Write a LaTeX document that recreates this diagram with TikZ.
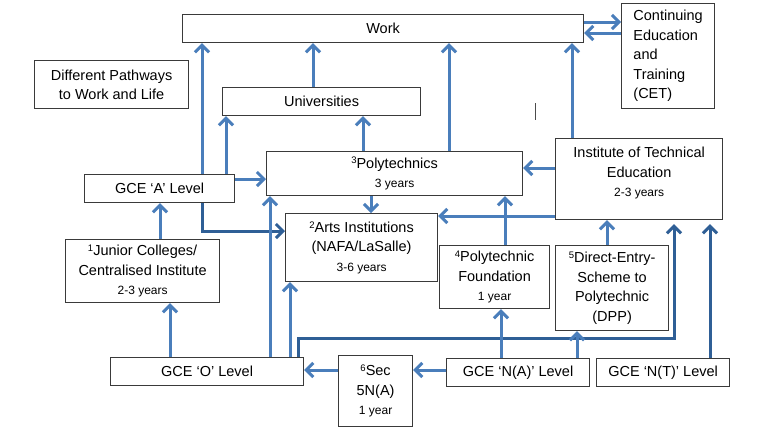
\documentclass[tikz,border=0pt]{standalone}
\usepackage{fontspec}
\setmainfont{Liberation Sans}
\usetikzlibrary{arrows.meta}

\definecolor{flow}{HTML}{4A7EBB}
\definecolor{flowdark}{HTML}{2F5F96}
\definecolor{boxline}{HTML}{3A3A3A}

\newcommand\yrs[1]{{\fontsize{12}{15}\selectfont #1}}
\newcommand\fnum[1]{\raisebox{0.55ex}{\fontsize{9.5}{10}\selectfont #1}}

\tikzset{
  box/.style={draw=boxline, line width=1.2pt, inner sep=0pt, anchor=north west,
    align=center, font=\fontsize{14.5}{19.5}\selectfont},
  lbl/.style={inner sep=0pt, align=center, font=\fontsize{14.5}{19.5}\selectfont},
  flowarrow/.style={draw=flow, line width=3pt, -{Straight Barb[length=7pt,width=14pt]}},
  darkarrow/.style={flowarrow, draw=flowdark},
}

\begin{document}
\begin{tikzpicture}[x=1pt, y=-1pt]
  \fill[white] (0,0) rectangle (768,432);
  \useasboundingbox (0,0) rectangle (768,432);

  % Boxes
  \node[box, minimum width=401pt, minimum height=28pt] (work) at (182,14) {Work};
  \node[box, minimum width=93pt, minimum height=105pt, align=left] (cet) at (621,3)
    {Continuing\\Education\\and\\Training\\(CET)};
  \node[box, minimum width=154pt, minimum height=48pt] (paths) at (34,60)
    {Different Pathways\\to Work and Life};
  \node[box, minimum width=198pt, minimum height=28pt] (univ) at (222,87) {Universities};
  \node[box, minimum width=256pt, minimum height=44pt] (poly) at (266,151)
    {\fnum{3}Polytechnics\\\yrs{3 years}};
  \node[box, minimum width=150pt, minimum height=28pt] (alevel) at (84,174) {GCE ‘A’ Level};
  \node[box, minimum width=167pt, minimum height=81pt] (ite) at (555,138) {};
  \node[lbl, anchor=north] (itetext) at ([yshift=-9pt]ite.north)
    {Institute of Technical\\Education\\\yrs{2-3 years}};
  \node[box, minimum width=152pt, minimum height=68pt] (arts) at (285,213)
    {\fnum{2}Arts Institutions\\(NAFA/LaSalle)\\\yrs{3-6 years}};
  \node[box, minimum width=154pt, minimum height=63pt] (jc) at (65,239)
    {\fnum{1}Junior Colleges/\\Centralised Institute\\\yrs{2-3 years}};
  \node[box, minimum width=110pt, minimum height=63pt] (pf) at (439,245)
    {\fnum{4}Polytechnic\\Foundation\\\yrs{1 year}};
  \node[box, minimum width=113pt, minimum height=85pt] (dpp) at (555,245)
    {\fnum{5}Direct-Entry-\\Scheme to\\Polytechnic\\(DPP)};
  \node[box, minimum width=193pt, minimum height=28pt] (olevel) at (110,357) {GCE ‘O’ Level};
  \node[box, minimum width=74pt, minimum height=71pt] (sec) at (338,355)
    {\fnum{6}Sec\\5N(A)\\\yrs{1 year}};
  \node[box, minimum width=143pt, minimum height=28pt] (na) at (446,358) {GCE ‘N(A)’ Level};
  \node[box, minimum width=133pt, minimum height=28pt] (nt) at (596,358) {GCE ‘N(T)’ Level};

  % arrow columns and rows
  \foreach \n/\x in {aw/202, au/226, uw/313, pu/363, pw/449, iw/572, pa/371, fp/505,
      di/607, oj/170, ja/160, op/270, oa/290, oi/298, ti/674, nti/710, nf/501, nd/577}
    \coordinate (\n) at (\x,0);
  \foreach \n/\y in {wc/22, cw/33, ap/179, ip/168, ia/216, ns/370, at/231, ot/338}
    \coordinate (\n) at (0,\y);

  % Arrows
  \draw[flowarrow] (work.east |- wc) -- (cet.west |- wc);
  \draw[flowarrow] (cet.west |- cw) -- (work.east |- cw);
  \draw[flowarrow] (alevel.north -| aw) -- (work.south -| aw);
  \draw[flowarrow] (alevel.north -| au) -- (univ.south -| au);
  \draw[flowarrow] (alevel.east |- ap) -- (poly.west |- ap);
  \draw[darkarrow] (alevel.south -| aw) |- (arts.west |- at);
  \draw[flowarrow] (univ.north -| uw) -- (work.south -| uw);
  \draw[flowarrow] (poly.north -| pu) -- (univ.south -| pu);
  \draw[flowarrow] (poly.north -| pw) -- (work.south -| pw);
  \draw[flowarrow] (poly.south -| pa) -- (arts.north -| pa);
  \draw[flowarrow] (ite.north -| iw) -- (work.south -| iw);
  \draw[flowarrow] (ite.west |- ip) -- (poly.east |- ip);
  \draw[flowarrow] (ite.west |- ia) -- (arts.east |- ia);
  \draw[flowarrow] (pf.north -| fp) -- (poly.south -| fp);
  \draw[flowarrow] (dpp.north -| di) -- (ite.south -| di);
  \draw[flowarrow] (jc.north -| ja) -- (alevel.south -| ja);
  \draw[flowarrow] (olevel.north -| oj) -- (jc.south -| oj);
  \draw[flowarrow] (olevel.north -| op) -- (poly.south -| op);
  \draw[flowarrow] (olevel.north -| oa) -- (arts.south -| oa);
  \draw[darkarrow, shorten >=4pt] (olevel.north -| oi) |- (ot -| ti) -- (ite.south -| ti);
  \draw[flowarrow] (sec.west |- ns) -- (olevel.east |- ns);
  \draw[flowarrow] (na.west |- ns) -- (sec.east |- ns);
  \draw[flowarrow] (na.north -| nf) -- (pf.south -| nf);
  \draw[flowarrow] (na.north -| nd) -- (dpp.south -| nd);
  \draw[darkarrow, shorten >=4pt] (nt.north -| nti) -- (ite.south -| nti);

  % stray cursor mark
  \draw[line width=0.8pt, black!70] (535,103) -- (535,120);
\end{tikzpicture}
\end{document}
